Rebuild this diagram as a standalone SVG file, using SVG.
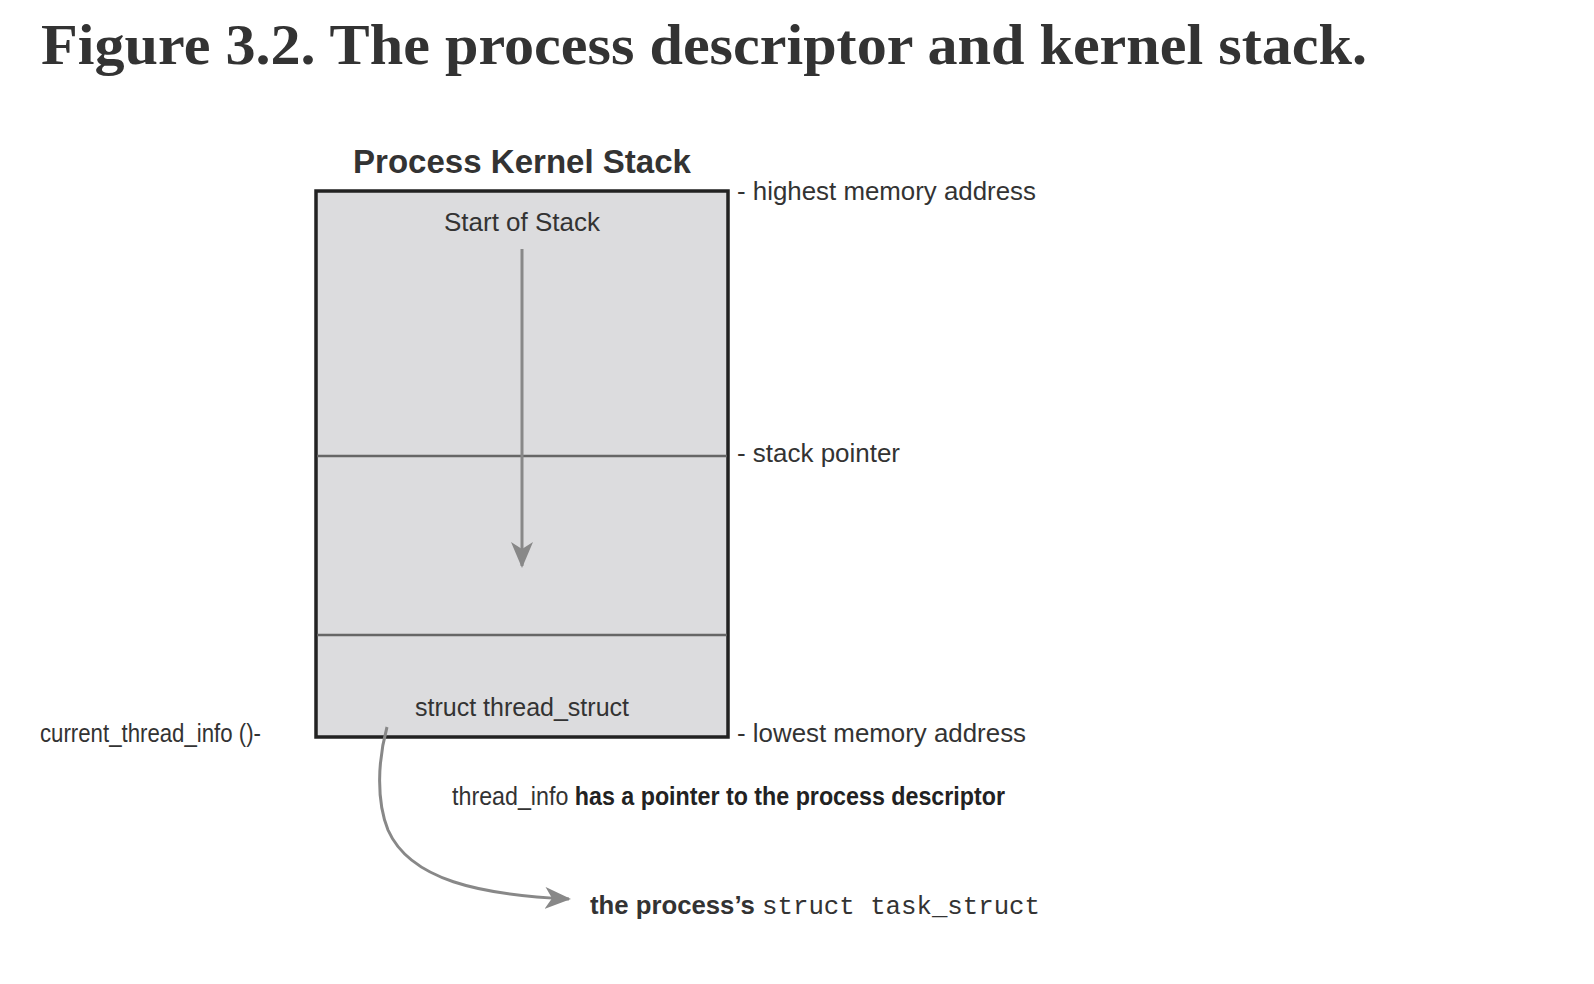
<svg xmlns="http://www.w3.org/2000/svg" width="1594" height="984" viewBox="0 0 1594 984">
<style>
.title{font-family:"Liberation Serif",serif;font-weight:bold;font-size:56px;fill:#333}
.sans{font-family:"Liberation Sans",Arial,sans-serif;fill:#333}
.cond{font-family:"Liberation Sans Narrow","Liberation Sans",Arial,sans-serif;fill:#333}
.mono{font-family:"Liberation Mono","DejaVu Sans Mono",monospace;fill:#333}
.box{fill:#dcdcde;stroke:#222;stroke-width:3.5}
.div{stroke:#666;stroke-width:2.5}
.conn{fill:none;stroke:#888;stroke-width:3}
</style>
<defs>
<marker id="ah" viewBox="0 0 26 22" refX="24" refY="11" markerWidth="26" markerHeight="22" markerUnits="userSpaceOnUse" orient="auto">
<path d="M0,0 L26,11 L0,22 L7,11 Z" fill="#888"/>
</marker>
</defs>
<rect width="1594" height="984" fill="#fff"/>
<text class="title" x="41" y="64" textLength="1326" lengthAdjust="spacingAndGlyphs">Figure 3.2. The process descriptor and kernel stack.</text>

<g id="stack">
<text class="sans" x="522" y="173" font-size="33" font-weight="bold" fill="#222" text-anchor="middle" textLength="338" lengthAdjust="spacingAndGlyphs">Process Kernel Stack</text>
<rect class="box" x="316" y="191" width="412" height="546"/>
<line class="div" x1="317" y1="456" x2="727" y2="456"/>
<line class="div" x1="317" y1="635" x2="727" y2="635"/>
<text class="sans" x="522" y="231" font-size="26" text-anchor="middle" textLength="156" lengthAdjust="spacingAndGlyphs">Start of Stack</text>
<text class="cond" x="522" y="716" font-size="26" text-anchor="middle" textLength="214" lengthAdjust="spacingAndGlyphs">struct thread_struct</text>
</g>

<g id="labels">
<text class="sans" x="737" y="200" font-size="25" textLength="299" lengthAdjust="spacingAndGlyphs">- highest memory address</text>
<text class="sans" x="737" y="462" font-size="25" textLength="163" lengthAdjust="spacingAndGlyphs">- stack pointer</text>
<text class="sans" x="737" y="742" font-size="25" textLength="289" lengthAdjust="spacingAndGlyphs">- lowest memory address</text>
<text class="cond" x="40" y="742" font-size="25" textLength="221" lengthAdjust="spacingAndGlyphs">current_thread_info ()-</text>
<text class="cond" x="452" y="805" font-size="25" textLength="553" lengthAdjust="spacingAndGlyphs"><tspan>thread_info</tspan><tspan font-weight="bold" fill="#222"> has a pointer to the process descriptor</tspan></text>
</g>

<g id="task">
<text x="590" y="914" font-size="25" textLength="450" lengthAdjust="spacingAndGlyphs"><tspan class="sans" font-weight="bold" fill="#222">the process’s </tspan><tspan class="mono">struct task_struct</tspan></text>
</g>

<g id="connectors">
<line class="conn" x1="522" y1="249" x2="522" y2="566" marker-end="url(#ah)"/>
<path class="conn" d="M387,727 C378,760 376,800 388,830 C410,880 480,895 569,899" marker-end="url(#ah)"/>
</g>
</svg>
